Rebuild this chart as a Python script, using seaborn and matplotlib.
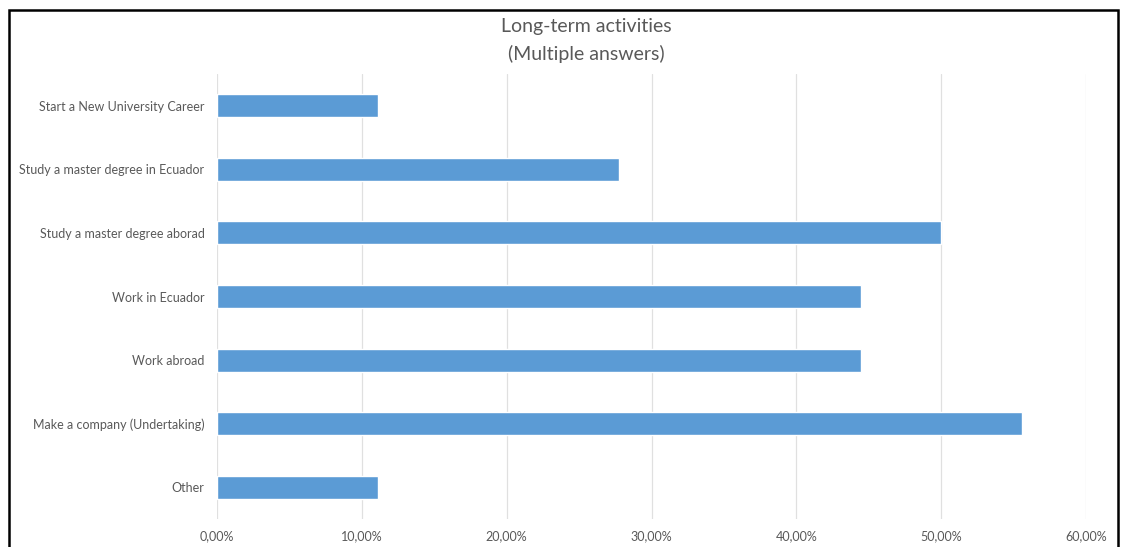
import matplotlib
matplotlib.use("Agg")
import matplotlib.pyplot as plt
import matplotlib.ticker as mticker
from matplotlib.patches import Rectangle
import seaborn as sns
import pandas as pd

# data
activities = ["Start a New University Career",
              "Study a master degree in Ecuador",
              "Study a master degree aborad",
              "Work in Ecuador",
              "Work abroad",
              "Make a company (Undertaking)",
              "Other"]
shares = [0.1111, 0.2778, 0.5000, 0.4444, 0.4444, 0.5556, 0.1111]
x_ticks = [0.0, 0.1, 0.2, 0.3, 0.4, 0.5, 0.6]

df = pd.DataFrame({"activity": activities, "share": shares})

sns.set_style("white")
plt.rcParams['font.family'] = ['Lato', 'DejaVu Sans']

fig = plt.figure(figsize=(11.21, 5.47), dpi=100)
ax = fig.add_axes([0.1936, 0.0512, 0.7752, 0.8135])

sns.barplot(data=df, x="share", y="activity", orient="h", color="#5b9bd5",
            saturation=1, width=0.36, ax=ax)

ax.set_xlim(0, 0.6)
ax.set_ylim(6.5, -0.5)
ax.set_xticks(x_ticks)
ax.xaxis.set_major_formatter(mticker.FuncFormatter(
    lambda v, p: f"{v*100:.2f}%".replace(".", ",")))
ax.grid(axis="x", color="#e0e0e0", linewidth=0.9)
ax.set_axisbelow(True)
for s in ax.spines.values():
    s.set_visible(False)
ax.tick_params(axis="both", length=0, labelsize=9, colors="#595959")
ax.tick_params(axis="x", pad=8)
ax.tick_params(axis="y", pad=9)
ax.set_xlabel("")
ax.set_ylabel("")

fig.text(0.523, 0.951, "Long-term activities", ha="center", va="center",
         fontsize=14, color="#595959")
fig.text(0.523, 0.902, "(Multiple answers)", ha="center", va="center",
         fontsize=14, color="#595959")

# black frame around chart
fig.patches.append(Rectangle((9 / 1121, -0.05), (1118 - 9) / 1121, 1.05 - 10 / 547,
                             transform=fig.transFigure, fill=False,
                             edgecolor="black", linewidth=1.8, clip_on=False))

plt.savefig("out.png", dpi=100)
